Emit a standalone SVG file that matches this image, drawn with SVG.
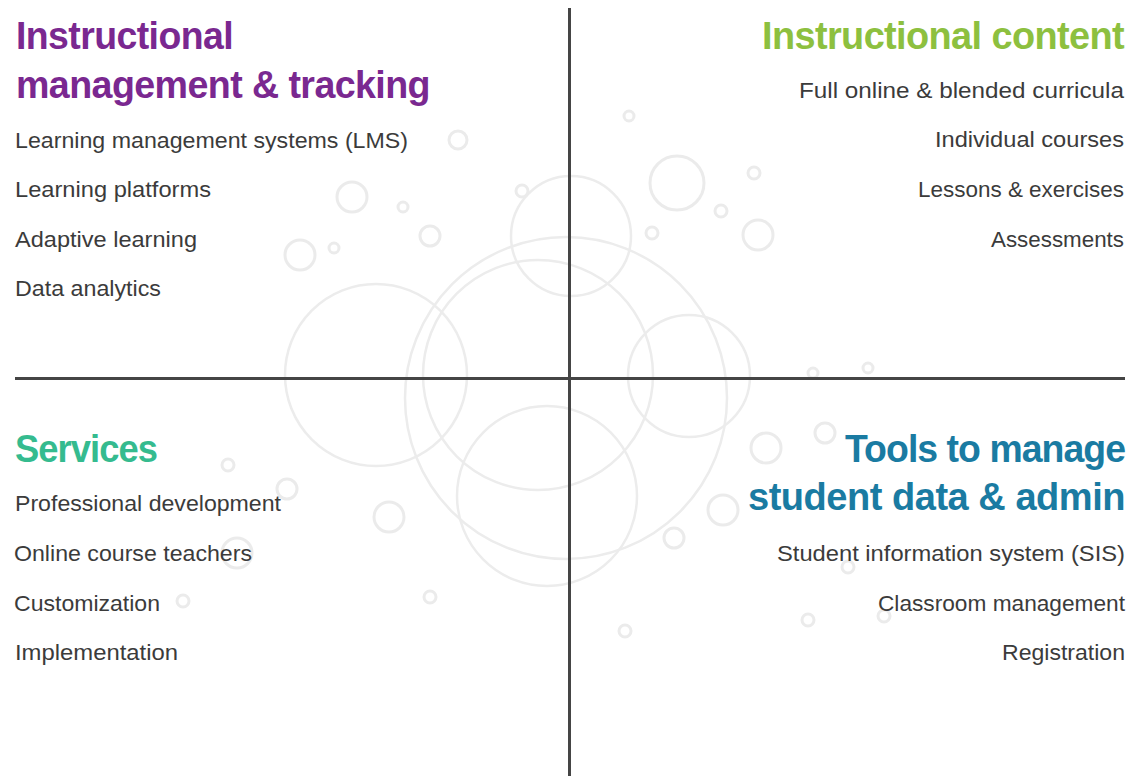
<svg xmlns="http://www.w3.org/2000/svg" width="1139" height="776" viewBox="0 0 1139 776">
<style>
.bub{fill:none;stroke:#ececec;stroke-width:2.5}
.sb{fill:none;stroke:#ebebeb;stroke-width:3}
.h{font-family:"Liberation Sans",Arial,sans-serif;font-weight:bold;font-size:39px}
.t{font-family:"Liberation Sans",Arial,sans-serif;font-size:22px;fill:#3b3b3b}
.r{text-anchor:end}
.ax{stroke:#454545;stroke-width:3}
</style>
<rect width="1139" height="776" fill="#ffffff"/>
<g id="bubbles">
<circle class="bub" cx="566" cy="398" r="161"/>
<circle class="bub" cx="538" cy="375" r="115"/>
<circle class="bub" cx="571" cy="236" r="60"/>
<circle class="bub" cx="376" cy="375" r="91"/>
<circle class="bub" cx="689" cy="376" r="61"/>
<circle class="bub" cx="547" cy="496" r="90"/>
<circle class="sb" cx="677" cy="183" r="27"/>
<circle class="sb" cx="352" cy="197" r="15"/>
<circle class="sb" cx="403" cy="207" r="5"/>
<circle class="sb" cx="430" cy="236" r="10"/>
<circle class="sb" cx="300" cy="255" r="15"/>
<circle class="sb" cx="334" cy="248" r="5"/>
<circle class="sb" cx="458" cy="140" r="9"/>
<circle class="sb" cx="522" cy="191" r="6"/>
<circle class="sb" cx="629" cy="116" r="5"/>
<circle class="sb" cx="754" cy="173" r="6"/>
<circle class="sb" cx="721" cy="211" r="6"/>
<circle class="sb" cx="652" cy="233" r="6"/>
<circle class="sb" cx="758" cy="235" r="15"/>
<circle class="sb" cx="813" cy="373" r="5"/>
<circle class="sb" cx="868" cy="368" r="5"/>
<circle class="sb" cx="766" cy="448" r="15"/>
<circle class="sb" cx="825" cy="433" r="10"/>
<circle class="sb" cx="723" cy="510" r="15"/>
<circle class="sb" cx="674" cy="538" r="10"/>
<circle class="sb" cx="848" cy="567" r="6"/>
<circle class="sb" cx="808" cy="620" r="6"/>
<circle class="sb" cx="884" cy="616" r="6"/>
<circle class="sb" cx="625" cy="631" r="6"/>
<circle class="sb" cx="228" cy="465" r="6"/>
<circle class="sb" cx="287" cy="489" r="10"/>
<circle class="sb" cx="389" cy="517" r="15"/>
<circle class="sb" cx="237" cy="553" r="15"/>
<circle class="sb" cx="183" cy="601" r="6"/>
<circle class="sb" cx="430" cy="597" r="6"/>
</g>
<g id="connectors">
<line class="ax" x1="569.5" y1="8" x2="569.5" y2="776"/>
<line class="ax" x1="15" y1="378.5" x2="1125" y2="378.5"/>
</g>
<g id="q-management">
<text class="h" fill="#7a2890" x="16" y="49" letter-spacing="-0.6" textLength="217" lengthAdjust="spacingAndGlyphs">Instructional</text>
<text class="h" fill="#7a2890" x="16" y="98" letter-spacing="-0.6" textLength="414" lengthAdjust="spacingAndGlyphs">management &amp; tracking</text>
<text class="t" x="15" y="148" textLength="393" lengthAdjust="spacingAndGlyphs">Learning management systems (LMS)</text>
<text class="t" x="15" y="197" textLength="196" lengthAdjust="spacingAndGlyphs">Learning platforms</text>
<text class="t" x="15" y="247" textLength="182" lengthAdjust="spacingAndGlyphs">Adaptive learning</text>
<text class="t" x="15" y="296" textLength="146" lengthAdjust="spacingAndGlyphs">Data analytics</text>
</g>
<g id="q-content">
<text class="h r" fill="#8dc03f" x="1124" y="49" letter-spacing="-0.6" textLength="362" lengthAdjust="spacingAndGlyphs">Instructional content</text>
<text class="t r" x="1124" y="98" textLength="325" lengthAdjust="spacingAndGlyphs">Full online &amp; blended curricula</text>
<text class="t r" x="1124" y="147" textLength="189" lengthAdjust="spacingAndGlyphs">Individual courses</text>
<text class="t r" x="1124" y="197" textLength="206" lengthAdjust="spacingAndGlyphs">Lessons &amp; exercises</text>
<text class="t r" x="1124" y="247" textLength="133" lengthAdjust="spacingAndGlyphs">Assessments</text>
</g>
<g id="q-services">
<text class="h" fill="#35bb8f" x="15" y="462" letter-spacing="-1" textLength="142" lengthAdjust="spacingAndGlyphs">Services</text>
<text class="t" x="15" y="511" textLength="266" lengthAdjust="spacingAndGlyphs">Professional development</text>
<text class="t" x="14" y="561" textLength="238" lengthAdjust="spacingAndGlyphs">Online course teachers</text>
<text class="t" x="14" y="611" textLength="146" lengthAdjust="spacingAndGlyphs">Customization</text>
<text class="t" x="15" y="660" textLength="163" lengthAdjust="spacingAndGlyphs">Implementation</text>
</g>
<g id="q-tools">
<text class="h r" fill="#1a7ba2" x="1125" y="462" letter-spacing="-1" textLength="280" lengthAdjust="spacingAndGlyphs">Tools to manage</text>
<text class="h r" fill="#1a7ba2" x="1125" y="510" letter-spacing="-0.5" textLength="377" lengthAdjust="spacingAndGlyphs">student data &amp; admin</text>
<text class="t r" x="1125" y="561" textLength="348" lengthAdjust="spacingAndGlyphs">Student information system (SIS)</text>
<text class="t r" x="1125" y="611" textLength="247" lengthAdjust="spacingAndGlyphs">Classroom management</text>
<text class="t r" x="1125" y="660" textLength="123" lengthAdjust="spacingAndGlyphs">Registration</text>
</g>
</svg>
